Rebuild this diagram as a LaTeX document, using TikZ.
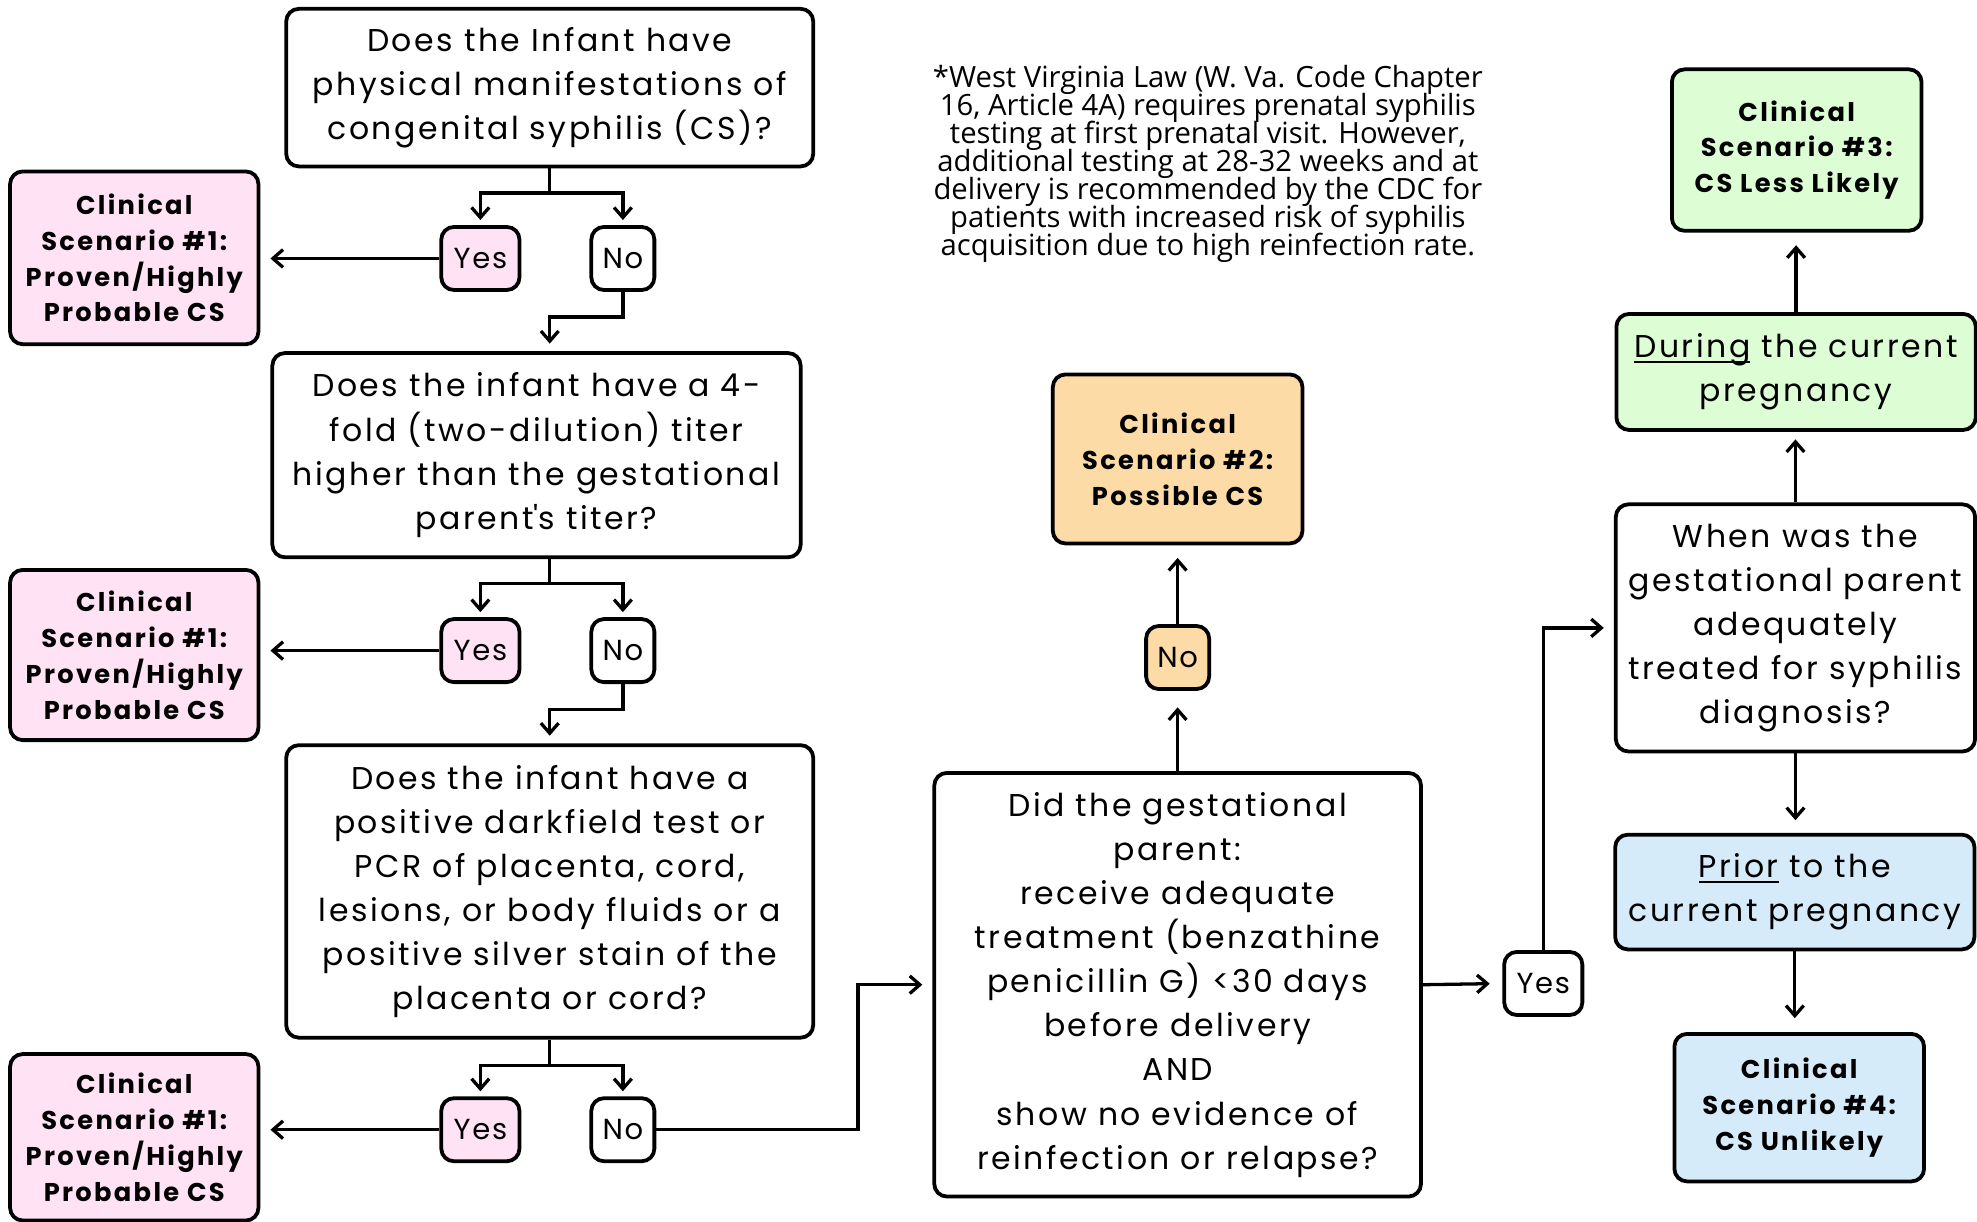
\documentclass[tikz,border=0pt]{standalone}
\usepackage{fontspec}
\setmainfont{Poppins}
\newfontfamily\notefont{Open Sans}
\usetikzlibrary{arrows.meta}
\definecolor{pinkfill}{HTML}{FFE3F4}
\definecolor{orangefill}{HTML}{FDDBA6}
\definecolor{greenfill}{HTML}{DDFDD5}
\definecolor{bluefill}{HTML}{D6EBF9}
\newsavebox\myulbox
\newcommand\myul[1]{\sbox\myulbox{#1}\rlap{\rule[-2pt]{\wd\myulbox}{0.7pt}}\usebox\myulbox}
\newcommand\tightlines{\setlength\lineskiplimit{-20pt}\setlength\lineskip{0pt}}
\tikzset{
  box/.style={draw=black, line width=1.5pt, rounded corners=5pt, align=center, inner sep=0pt},
  sz/.style 2 args={minimum width=#1*0.5pt, minimum height=#2*0.5pt},
  qtext/.style={font=\fontsize{12.5}{17.5}\selectfont\addfontfeatures{LetterSpace=8}},
  stext/.style={font=\fontsize{10.2}{14.25}\selectfont\bfseries\addfontfeatures{LetterSpace=9}},
  ynbox/.style={box, sz={#1}{50}, font=\fontsize{11.5}{14}\selectfont\addfontfeatures{LetterSpace=6}},
  conn/.style={line width=1.3pt},
  arr/.style={conn, -{Straight Barb[length=4pt,width=7pt,line width=1.3pt]}, shorten >=#1},
  arr/.default=2pt
}
\begin{document}
\begin{tikzpicture}[x=0.5pt, y=-0.5pt]
\useasboundingbox (0,0) rectangle (1568,969);
% questions
\node[box, qtext, sz={418}{125}] (A) at (436,69.5) {Does the Infant have\\physical manifestations of\\congenital syphilis (CS)?};
\node[box, qtext, sz={419}{162}] (B) at (425.5,361) {Does the infant have a 4-\\fold (two-dilution) titer\\higher than the gestational\\parent\textquotesingle s titer?};
\node[box, qtext, sz={418}{232}] (C) at (436,707) {Does the infant have a\\positive darkfield test or\\PCR of placenta, cord,\\lesions, or body fluids or a\\positive silver stain of the\\placenta or cord?};
\node[box, qtext, sz={386}{336}] (D) at (934,781) {Did the gestational\\parent:\\receive adequate\\treatment (benzathine\\penicillin G) <30 days\\before delivery\\AND\\show no evidence of\\reinfection or relapse?};
\node[box, qtext, sz={285}{196}] (E) at (1424,498) {When was the\\gestational parent\\adequately\\treated for syphilis\\diagnosis?};
\node[box, qtext, fill=greenfill, sz={285}{92}] (Dur) at (1424.5,295) {\myul{During} the current\\pregnancy};
\node[box, qtext, fill=bluefill, sz={285}{91}] (Pri) at (1423.5,707.5) {\myul{Prior} to the\\current pregnancy};
% scenarios
\node[box, stext, fill=pinkfill, sz={197}{137}] (S1a) at (106.5,204.5) {Clinical\\Scenario \#1:\\Proven/Highly\\Probable CS};
\node[box, stext, fill=pinkfill, sz={197}{135}] (S1b) at (106.5,519.5) {Clinical\\Scenario \#1:\\Proven/Highly\\Probable CS};
\node[box, stext, fill=pinkfill, sz={197}{132}] (S1c) at (106.5,902) {Clinical\\Scenario \#1:\\Proven/Highly\\Probable CS};
\node[box, stext, fill=orangefill, sz={198}{134}] (S2) at (934,364) {Clinical\\Scenario \#2:\\Possible CS};
\node[box, stext, fill=greenfill, sz={198}{128}] (S3) at (1425,119) {Clinical\\Scenario \#3:\\CS Less Likely};
\node[box, stext, fill=bluefill, sz={198}{117}] (S4) at (1427,878.5) {Clinical\\Scenario \#4:\\CS Unlikely};
% yes / no
\node[ynbox=62, fill=pinkfill] (Y1) at (381,205) {Yes};
\node[ynbox=50] (N1) at (494,205) {No};
\node[ynbox=62, fill=pinkfill] (Y2) at (381,516) {Yes};
\node[ynbox=50] (N2) at (494,516) {No};
\node[ynbox=62, fill=pinkfill] (Y3) at (381,896) {Yes};
\node[ynbox=50] (N3) at (494,896) {No};
\node[ynbox=50, fill=orangefill] (N4) at (934,521.5) {No};
\node[ynbox=62] (Y5) at (1224,780) {Yes};
% note
\node[align=center, inner sep=0pt, font=\notefont\fontsize{11.6}{11.1}\selectfont\tightlines] (note) at (958,130)
 {*West Virginia Law (W. Va. Code Chapter\\16, Article 4A) requires prenatal syphilis\\testing at first prenatal visit. However,\\additional testing at 28-32 weeks and at\\delivery is recommended by the CDC for\\patients with increased risk of syphilis\\acquisition due to high reinfection rate.};
% connectors: first question
\coordinate (j1) at (436,153);
\draw[conn] (A.south) -- (j1);
\draw[arr] (j1) -| (Y1.north);
\draw[arr] (j1) -| (N1.north);
\draw[arr=4pt] (Y1.west) -- (S1a.east |- Y1.west);
\draw[arr=3pt] (N1.south) -- ++(0,20) -| (B.north -| A.south);
% second question
\coordinate (j2) at (436,463);
\draw[conn] (B.south -| A.south) -- (j2);
\draw[arr] (j2) -| (Y2.north);
\draw[arr] (j2) -| (N2.north);
\draw[arr=4pt] (Y2.west) -- (S1b.east |- Y2.west);
\draw[arr=3pt] (N2.south) -- ++(0,20) -| (C.north);
% third question
\coordinate (j3) at (436,845);
\draw[conn] (C.south) -- (j3);
\draw[arr] (j3) -| (Y3.north);
\draw[arr] (j3) -| (N3.north);
\draw[arr=4pt] (Y3.west) -- (S1c.east |- Y3.west);
\draw[arr=4pt] (N3.east) -- ++(160,0) |- (D.west);
% D
\draw[arr=6.5pt] (D.north) -- (N4.south);
\draw[arr=5pt] (N4.north) -- (S2.south);
\draw[arr=5pt] (D.east) -- (Y5.west);
\draw[arr=4pt] (Y5.north) |- (E.west);
% E
\draw[arr=3pt] (E.north) -- (E.north |- Dur.south);
\draw[arr=5pt] (Dur.north) -- (Dur.north |- S3.south);
\draw[arr=5pt] (E.south) -- (E.south |- Pri.north);
\draw[arr=5.5pt] (Pri.south) -- (Pri.south |- S4.north);
\end{tikzpicture}
\end{document}
